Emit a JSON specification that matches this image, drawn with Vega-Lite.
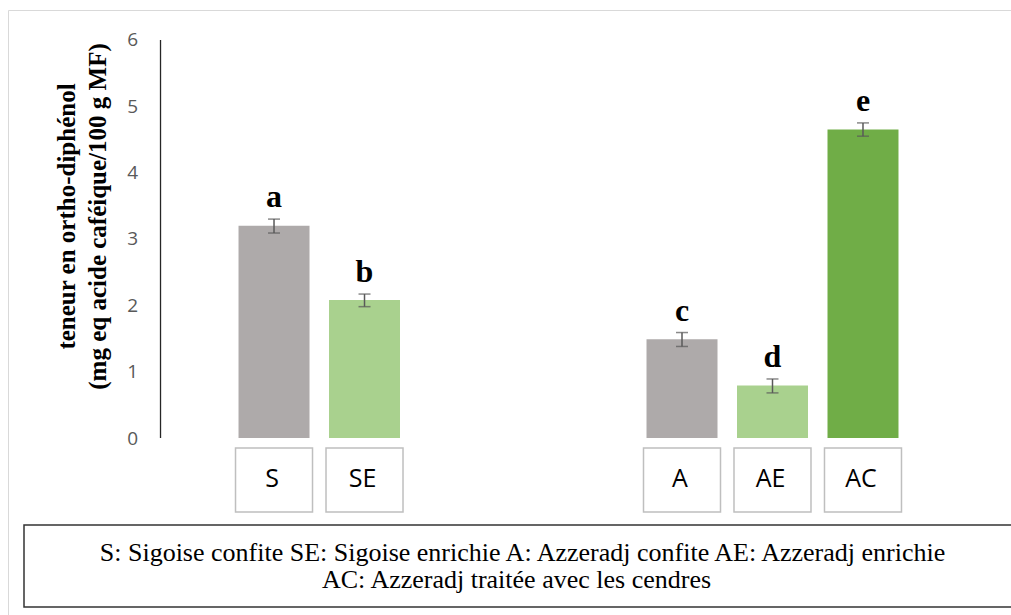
{
  "$schema": "https://vega.github.io/schema/vega-lite/v6.json",
  "autosize": "none",
  "padding": {"left": 8, "top": 10, "right": 0, "bottom": 0},
  "width": 1003,
  "height": 605,
  "background": "white",
  "config": {
    "view": {"stroke": "#d9d9d9", "strokeWidth": 1}
  },
  "data": {"values": [
    {"code": "S", "variete": "Sigoise", "traitement": "confite", "value": 3.2, "low": 3.09, "high": 3.3, "lettre": "a"},
    {"code": "SE", "variete": "Sigoise", "traitement": "enrichie", "value": 2.08, "low": 1.98, "high": 2.17, "lettre": "b"},
    {"code": "A", "variete": "Azzeradj", "traitement": "confite", "value": 1.49, "low": 1.38, "high": 1.59, "lettre": "c"},
    {"code": "AE", "variete": "Azzeradj", "traitement": "enrichie", "value": 0.79, "low": 0.68, "high": 0.89, "lettre": "d"},
    {"code": "AC", "variete": "Azzeradj", "traitement": "cendres", "value": 4.65, "low": 4.55, "high": 4.75, "lettre": "e"}
  ]},
  "encoding": {
    "x": {"field": "variete", "type": "nominal", "scale": {"domain": ["Sigoise", "Azzeradj"], "paddingInner": 0, "paddingOuter": 0.2292, "align": 0.8155}, "axis": null},
    "xOffset": {"field": "traitement", "type": "nominal", "scale": {"domain": ["confite", "enrichie", "cendres"], "paddingInner": 0.2155, "paddingOuter": 0.862}}
  },
  "layer": [
    {
      "mark": {"type": "bar"},
      "encoding": {
        "y": {"field": "value", "type": "quantitative",
          "scale": {"domain": [-2.668, 6.452], "nice": false, "zero": false},
          "axis": {"values": [0, 1, 2, 3, 4, 5, 6], "format": "d",
            "title": ["teneur en ortho-diphénol", "(mg eq acide caféique/100 g MF)"],
            "domain": false, "ticks": false, "tickSize": 0, "grid": false, "offset": -152.5, "labelPadding": 23,
            "labelFont": "Open Sans", "labelFontSize": 19, "labelColor": "#595959", "labelFontWeight": "normal",
            "titleFont": "Liberation Serif", "titleFontSize": 25, "titleFontWeight": "bold", "titleColor": "black",
            "titleLineHeight": 31, "titleX": -81, "titleY": 206, "titleAngle": -90, "titleAlign": "center", "titleBaseline": "bottom"}},
        "y2": {"datum": 0},
        "color": {"field": "traitement", "type": "nominal", "scale": {"domain": ["confite", "enrichie", "cendres"], "range": ["#aeaaaa", "#a9d18e", "#70ad47"]}, "legend": null}
      }
    },
    {
      "mark": {"type": "rule", "color": "#595959", "strokeWidth": 1.5},
      "encoding": {
        "y": {"field": "low", "type": "quantitative"},
        "y2": {"field": "high"}
      }
    },
    {
      "mark": {"type": "tick", "color": "#595959", "thickness": 1.5, "size": 12},
      "encoding": {"y": {"field": "low", "type": "quantitative"}}
    },
    {
      "mark": {"type": "tick", "color": "#595959", "thickness": 1.5, "size": 12},
      "encoding": {"y": {"field": "high", "type": "quantitative"}}
    },
    {
      "mark": {"type": "text", "font": "Liberation Serif", "fontWeight": "bold", "fontSize": 32, "baseline": "alphabetic", "dy": -12, "color": "black"},
      "encoding": {
        "y": {"field": "high", "type": "quantitative"},
        "text": {"field": "lettre"}
      }
    },
    {
      "data": {"values": [{}]},
      "mark": {"type": "rule", "color": "#262626", "strokeWidth": 1.3},
      "encoding": {
        "x": {"datum": "Sigoise", "bandPosition": 0},
        "xOffset": null,
        "y": {"datum": 0, "type": "quantitative"},
        "y2": {"datum": 6}
      }
    },
    {
      "mark": {"type": "rect", "fill": "white", "stroke": "#bfbfbf", "strokeWidth": 1.5, "width": 77},
      "encoding": {
        "y": {"datum": -0.151, "type": "quantitative"},
        "y2": {"datum": -1.116}
      }
    },
    {
      "mark": {"type": "text", "font": "Open Sans", "fontSize": 25, "baseline": "middle", "color": "black", "dx": -2},
      "encoding": {
        "y": {"datum": -0.618, "type": "quantitative"},
        "text": {"field": "code"}
      }
    },
    {
      "data": {"values": [{}]},
      "mark": {"type": "rect", "fill": "white", "stroke": "#333333", "strokeWidth": 1.5},
      "encoding": {
        "x": {"value": 16},
        "x2": {"value": {"expr": "width + 20"}},
        "xOffset": null,
        "y": {"datum": -1.312, "type": "quantitative"},
        "y2": {"datum": -2.548}
      }
    },
    {
      "data": {"values": [{"ligne": "S: Sigoise confite SE: Sigoise enrichie A: Azzeradj confite AE: Azzeradj enrichie"}]},
      "mark": {"type": "text", "font": "Liberation Serif", "fontSize": 26, "baseline": "alphabetic", "align": "center", "color": "black"},
      "encoding": {
        "x": {"value": {"expr": "width / 2 + 13"}},
        "xOffset": null,
        "y": {"datum": -1.855, "type": "quantitative"},
        "text": {"field": "ligne"}
      }
    },
    {
      "data": {"values": [{"ligne": "AC: Azzeradj traitée avec les cendres"}]},
      "mark": {"type": "text", "font": "Liberation Serif", "fontSize": 26, "baseline": "alphabetic", "align": "center", "color": "black"},
      "encoding": {
        "x": {"value": {"expr": "width / 2 + 7"}},
        "xOffset": null,
        "y": {"datum": -2.262, "type": "quantitative"},
        "text": {"field": "ligne"}
      }
    }
  ]
}
